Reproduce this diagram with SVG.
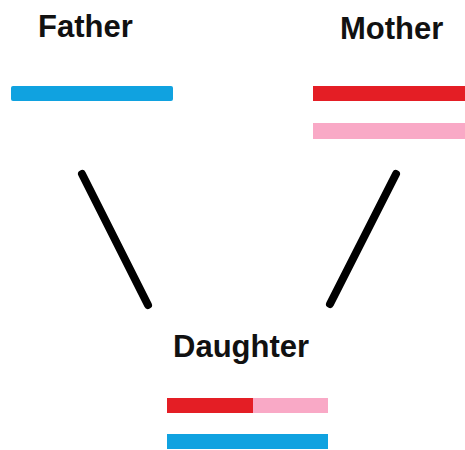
<svg xmlns="http://www.w3.org/2000/svg" width="465" height="450" viewBox="0 0 465 450">
<style>
.lbl{font-family:"Liberation Sans",Arial,sans-serif;font-weight:bold;font-size:31px;fill:#111}
.conn{stroke:#000;stroke-width:8;stroke-linecap:round;fill:none}
.blue{fill:#10a2e0}.red{fill:#e41e25}.pink{fill:#f9a9c6}
</style>
<rect width="465" height="450" fill="#fff"/>
<g id="father">
<text class="lbl" x="38" y="37">Father</text>
<rect class="blue" x="11" y="86" width="162" height="15" rx="2"/>
</g>
<g id="mother">
<text class="lbl" x="340" y="39">Mother</text>
<rect class="red" x="313" y="86" width="152" height="15"/>
<rect class="pink" x="313" y="123" width="152" height="16"/>
</g>
<g id="daughter">
<text class="lbl" x="173" y="357">Daughter</text>
<rect class="red" x="167" y="398" width="86" height="15"/>
<rect class="pink" x="253" y="398" width="75" height="15"/>
<rect class="blue" x="167" y="434" width="161" height="15"/>
</g>
<g id="connectors">
<line class="conn" x1="82" y1="174" x2="148" y2="305"/>
<line class="conn" x1="396" y1="174" x2="330" y2="304"/>
</g>
</svg>
